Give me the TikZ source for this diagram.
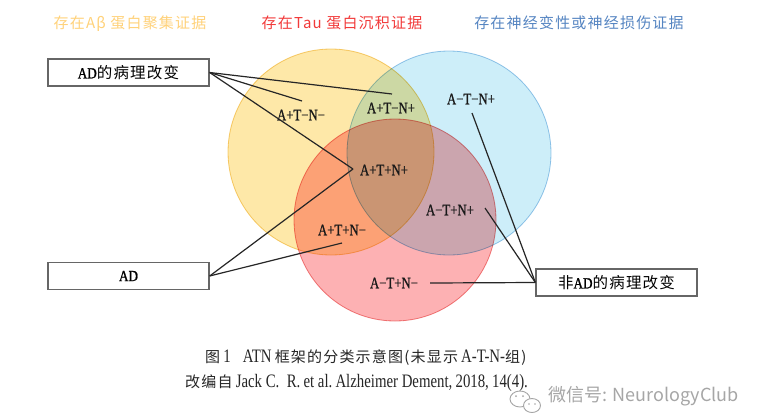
\documentclass[tikz,border=0pt]{standalone}
\usepackage{fontspec}
\setmainfont{Liberation Serif}
\newfontfamily\cjk{Noto Sans CJK SC}
\newfontfamily\cjks{Noto Sans CJK SC}[LetterSpace=8]
\newfontfamily\lab{Liberation Serif}[FakeStretch=0.8,FakeBold=0.7]
\newfontfamily\labb{Liberation Serif}[FakeStretch=0.85,FakeBold=1.2]
\newfontfamily\capl{Liberation Serif}[FakeStretch=0.78]
\definecolor{yfill}{HTML}{FEE8A8}
\definecolor{yedge}{HTML}{F6D27A}
\definecolor{bfill}{HTML}{CDEEF9}
\definecolor{bedge}{HTML}{9DC9EA}
\definecolor{rfill}{HTML}{FDB1B3}
\definecolor{redge}{HTML}{F08A8A}
\definecolor{ytitle}{HTML}{FFD27A}
\definecolor{rtitle}{HTML}{F23A3A}
\definecolor{btitle}{HTML}{5585C2}
\definecolor{wmgray}{HTML}{A6A6A6}
\begin{document}
\begin{tikzpicture}[x=1pt,y=-1pt,
  lbl/.style={font=\lab\fontsize{16}{18}\selectfont, inner sep=0pt, text=black!90},
  boxn/.style={draw=black!60, line width=1.3pt, fill=white, minimum width=161pt, minimum height=27pt, inner sep=0pt, font=\fontsize{15.5}{17}\selectfont},
  conn/.style={draw=black!85, line width=1.2pt},
  ttl/.style={inner sep=0pt, font=\cjks\fontsize{15}{17}\selectfont},
  captext/.style={inner sep=0pt, font=\capl\fontsize{19}{21}\selectfont, text=black!85}]
\useasboundingbox (0,0) rectangle (758,416);
\fill[white] (0,0) rectangle (758,416);
% titles
\node[ttl, text=ytitle] (t1) at (130,24) {存在Aβ 蛋白聚集证据};
\node[ttl, text=rtitle] (t2) at (342,23) {存在Tau 蛋白沉积证据};
\node[ttl, text=btitle] (t3) at (579,23) {存在神经变性或神经损伤证据};
% circles
\begin{scope}[blend group=multiply]
\filldraw[fill=yfill, draw=yedge, line width=0.8pt] (331,152) circle[radius=103pt];
\filldraw[fill=bfill, draw=bedge, line width=0.8pt] (449,153) circle[radius=102pt];
\filldraw[fill=rfill, draw=redge, line width=0.8pt] (395,220) circle[radius=101pt];
\end{scope}
% labels
\node[lbl] (l1) at (301,115) {A+T−N−};
\node[lbl] (l2) at (391,108) {A+T−N+};
\node[lbl] (l3) at (384,170) {A+T+N+};
\node[lbl] (l4) at (471,99) {A−T−N+};
\node[lbl] (l5) at (450,210) {A−T+N+};
\node[lbl] (l6) at (342,230) {A+T+N−};
\node[lbl] (l7) at (394,283) {A−T+N−};
% boxes
\node[boxn] (b1) at (128.5,72.5) {{\labb AD}{\cjks 的病理改变}};
\node[boxn] (b2) at (128.5,276) {{\labb AD}};
\node[boxn] (b3) at (616.5,282.5) {{\cjks 非}{\labb AD}{\cjks 的病理改变}};
% connector ends
\coordinate (e1) at (302,101);
\coordinate (e2) at (392,94);
\coordinate (e3) at (353,169);
\coordinate (e6) at (342,243);
\coordinate (e4) at (472,113);
\coordinate (e5) at (485,208);
\coordinate (e7) at (430,283);
\draw[conn] (b1.east) -- (e1);
\draw[conn] (b1.east) -- (e2);
\draw[conn] (b1.east) -- (e3);
\draw[conn] (b2.east) -- (e3);
\draw[conn] (b2.east) -- (e6);
\draw[conn] (b3.west) -- (e4);
\draw[conn] (b3.west) -- (e5);
\draw[conn] (b3.west) -- (e7);
% caption
\node[captext, anchor=west] (c1) at (205,358) {{\cjks\fontsize{15}{17}\selectfont 图}\,1\hspace{12pt}ATN\,{\cjks\fontsize{15}{17}\selectfont 框架的分类示意图(未显示}\,A-T-N-{\cjks\fontsize{15}{17}\selectfont 组)}};
\node[captext, anchor=west] (c2) at (185,383) {{\cjks\fontsize{15}{17}\selectfont 改编自}\,Jack C.\ \ R.\,et al.\,Alzheimer Dement,\,2018,\,14(4).};
% watermark
\begin{scope}[draw=wmgray, line width=0.9pt]
\draw (520,399) ellipse[x radius=10pt, y radius=8pt];
\draw[fill=white] (532,405.5) ellipse[x radius=8.5pt, y radius=7pt];
\fill[wmgray] (516,396) circle[radius=1pt] (523,396) circle[radius=1pt];
\fill[wmgray] (529,404) circle[radius=0.9pt] (535,404) circle[radius=0.9pt];
\end{scope}
\node[inner sep=0pt, anchor=west, font=\cjk\fontsize{18}{20}\selectfont, text=wmgray] (wm) at (548,396) {微信号: NeurologyClub};
\end{tikzpicture}
\end{document}
